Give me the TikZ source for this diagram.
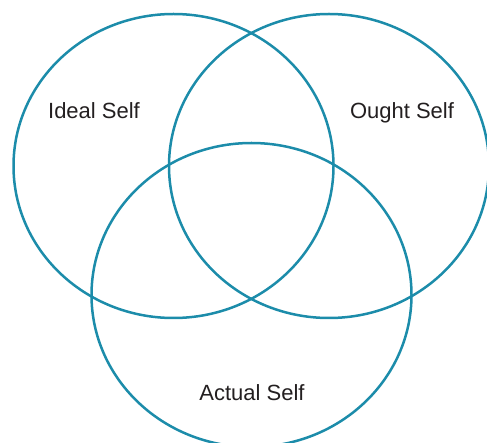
\documentclass[tikz,border=0pt]{standalone}
\usepackage{fontspec}
\setmainfont{Liberation Sans}
\usetikzlibrary{shapes.geometric}
\definecolor{vennblue}{RGB}{28,140,170}
\definecolor{labelgray}{RGB}{35,31,32}

\begin{document}
\begin{tikzpicture}[x=1pt,y=-1pt,
  selfset/.style={ellipse, draw=vennblue, line width=2.5pt,
    minimum width=320pt, minimum height=304pt, inner sep=0pt},
  selflabel/.style={font=\fontsize{22}{26}\selectfont, text=labelgray,
    inner sep=0pt, anchor=base}]
\useasboundingbox (0,0) rectangle (487,443);
\clip (0,0) rectangle (487,443);
% the three selves
\node[selfset] (ideal) at (173.5,166) {};
\node[selfset] (ought) at (329,166) {};
\node[selfset] (actual) at (251.5,295) {};
% labels
\node[selflabel] (ideallbl) at (94,119) {Ideal Self};
\node[selflabel] (oughtlbl) at (402,119) {Ought Self};
\node[selflabel] (actuallbl) at (252,400) {Actual Self};
\end{tikzpicture}
\end{document}
